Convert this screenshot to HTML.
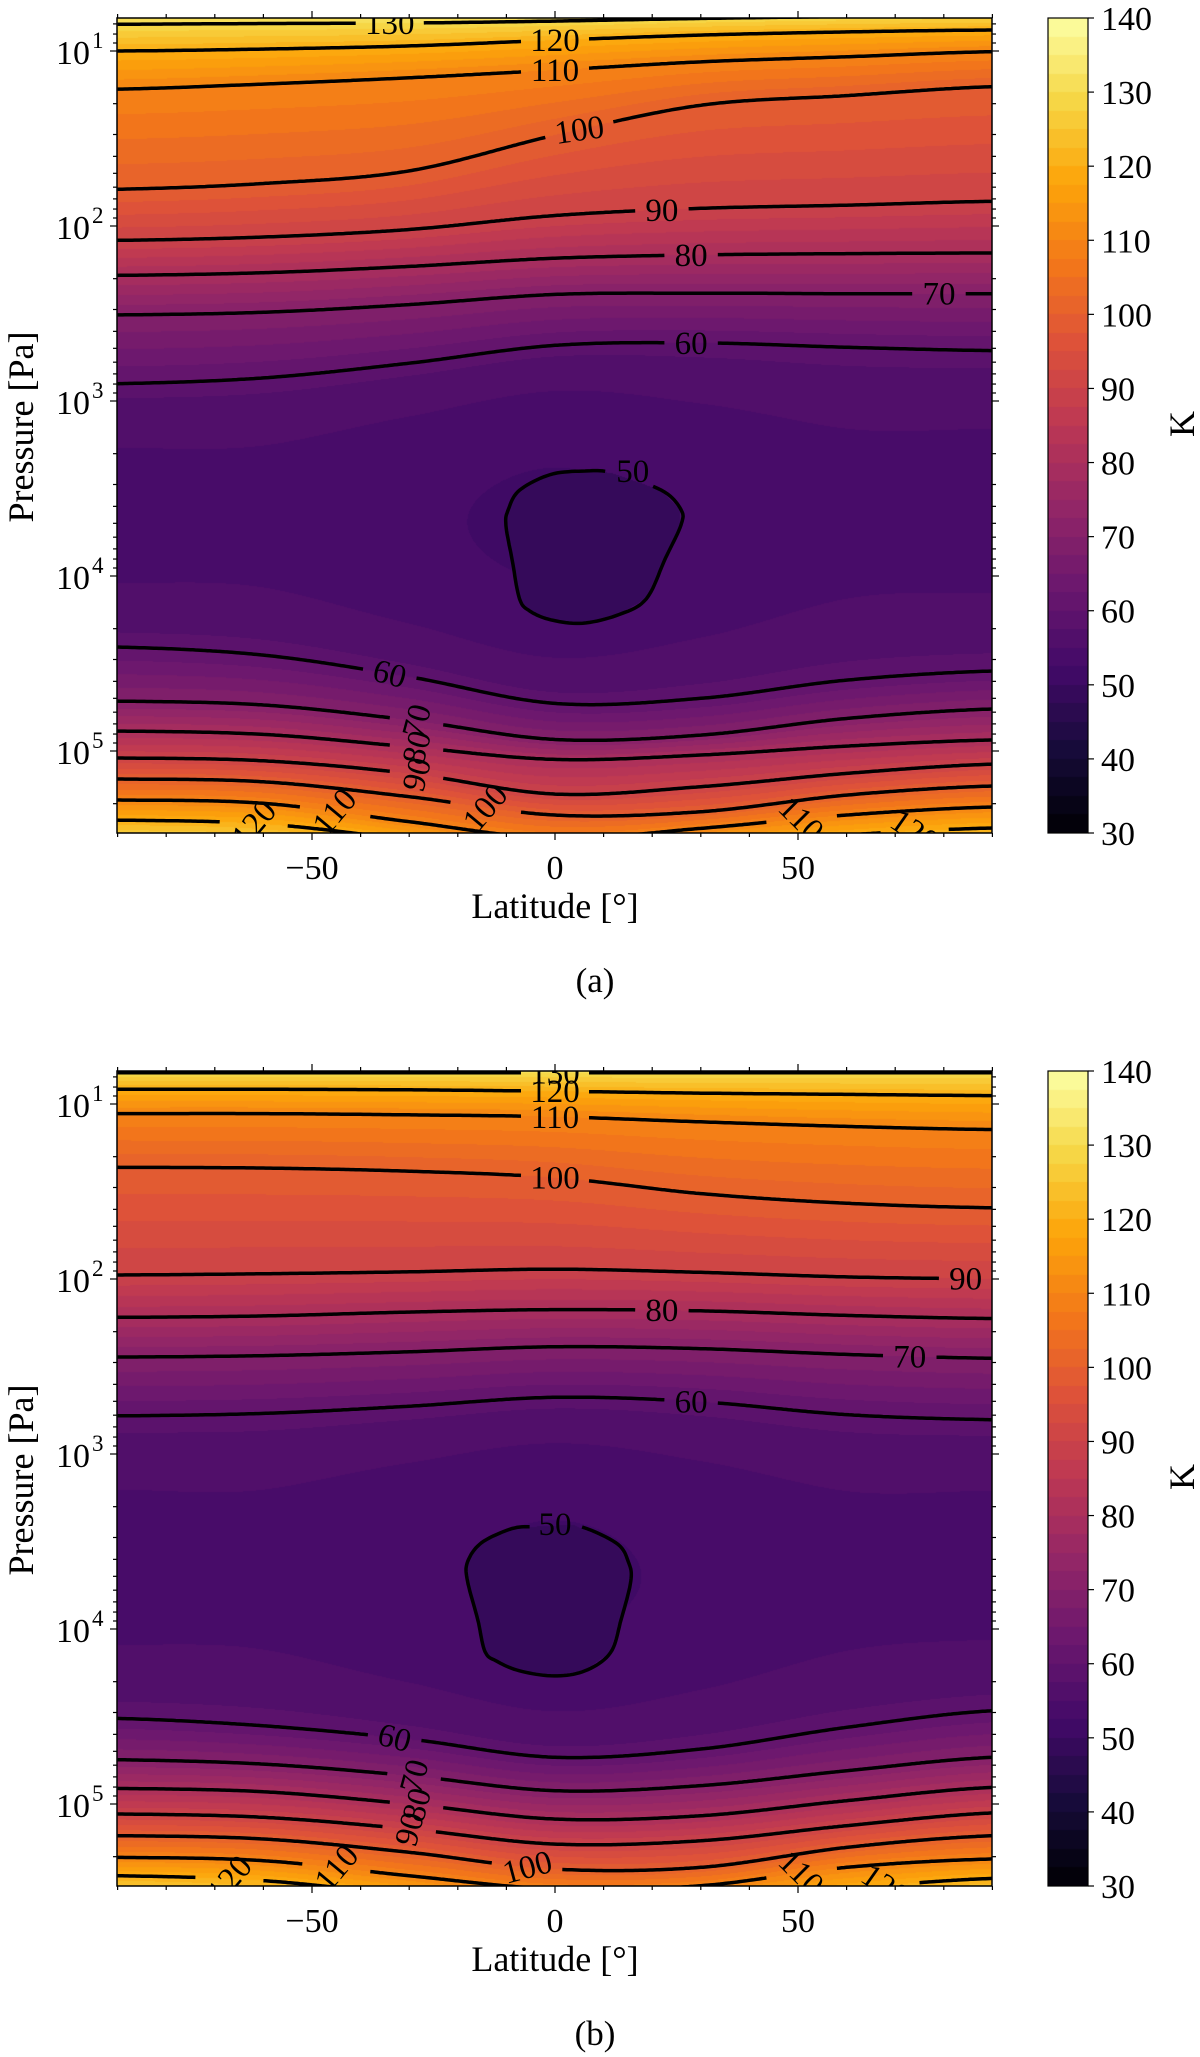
<!DOCTYPE html>
<html><head><meta charset="utf-8"><style>
body{margin:0;background:#fff;width:1200px;height:2057px;position:relative;overflow:hidden}
canvas{position:absolute}
svg{position:absolute;left:0;top:0}
text{font-family:"Liberation Serif",serif;fill:#000}
</style></head><body>
<canvas id="cA" width="875" height="815" style="left:117px;top:18px"></canvas>
<canvas id="cB" width="875" height="815" style="left:117px;top:1071px"></canvas>
<canvas id="cbA" width="40" height="815" style="left:1048px;top:18px"></canvas>
<canvas id="cbB" width="40" height="815" style="left:1048px;top:1071px"></canvas>
<svg id="ov" width="1200" height="2057"></svg>
<script>
const lats=[-90,-60,-30,0,30,60,90];
const aU130=[0.847,0.843,0.840,0.829,0.814,0.803,0.796];
const aU120=[1.0,0.989,0.971,0.938,0.909,0.891,0.880];
const aU110=[1.218,1.189,1.153,1.109,1.062,1.033,1.004];
const aU100=[1.790,1.757,1.685,1.481,1.310,1.255,1.204];
const aU90=[2.082,2.063,2.020,1.940,1.899,1.881,1.859];
const aU80=[2.282,2.267,2.231,2.184,2.165,2.158,2.154];
const aU70=[2.508,2.493,2.449,2.391,2.384,2.387,2.387];
const aU60=[2.901,2.868,2.784,2.682,2.668,2.693,2.712];
const aL60=[4.406,4.452,4.576,4.728,4.699,4.595,4.543];
const aL70=[4.715,4.737,4.823,4.934,4.909,4.814,4.760];
const aL80=[4.886,4.905,4.976,5.048,5.023,4.972,4.937];
const aL90=[5.040,5.056,5.128,5.246,5.204,5.128,5.075];
const aL100=[5.160,5.176,5.261,5.366,5.347,5.252,5.200];
const aL110=[5.280,5.299,5.404,5.499,5.442,5.366,5.320];
const aL120=[5.395,5.417,5.509,5.623,5.547,5.480,5.440];
const aL130=[5.509,5.537,5.661,5.776,5.700,5.623,5.585];
const aMid=[54,54,53,52,53,54,54];
const aLoopLat=[6.2,11.7,21.9,25.9,25.9,22.7,18.8,13.2,5.7,-0.9,-5.2,-7.3,-8.8,-10.1,-9.6,-7.3,-0.9];
const aLoopLp=[3.40,3.41,3.51,3.62,3.71,3.90,4.13,4.22,4.27,4.25,4.20,4.13,3.91,3.71,3.62,3.51,3.42];
const bU130=[0.821,0.821,0.821,0.821,0.821,0.821,0.821];
const bU120=[0.916,0.916,0.919,0.927,0.938,0.945,0.952];
const bU110=[1.055,1.055,1.062,1.073,1.102,1.128,1.146];
const bU100=[1.362,1.366,1.384,1.421,1.512,1.567,1.593];
const bU90=[1.977,1.970,1.959,1.944,1.962,1.988,1.999];
const bU80=[2.219,2.211,2.189,2.175,2.182,2.208,2.226];
const bU70=[2.446,2.438,2.416,2.387,2.398,2.431,2.453];
const bU60=[2.782,2.768,2.727,2.676,2.702,2.775,2.804];
const bL60=[4.511,4.553,4.629,4.733,4.686,4.562,4.467];
const bL70=[4.747,4.772,4.838,4.924,4.895,4.810,4.733];
const bL80=[4.911,4.930,5.000,5.086,5.067,4.981,4.905];
const bL90=[5.057,5.076,5.143,5.229,5.210,5.124,5.051];
const bL100=[5.181,5.200,5.276,5.372,5.362,5.248,5.181];
const bL110=[5.305,5.324,5.410,5.486,5.467,5.362,5.314];
const bL120=[5.410,5.438,5.524,5.619,5.581,5.486,5.425];
const bL130=[5.524,5.562,5.657,5.752,5.714,5.600,5.543];
const bMid=[54,54,53,52,53,54,54];
const bLoopLat=[-4.1,3.8,12.5,15.1,15.6,13.6,11.4,6.2,-0.2,-7.3,-12.0,-14.4,-15.9,-18.0,-18.0,-15.1,-8.8];
const bLoopLp=[3.415,3.404,3.507,3.617,3.726,3.946,4.136,4.239,4.268,4.239,4.184,4.129,3.946,3.726,3.617,3.507,3.426];
const upperLevels=[130,120,110,100,90,80,70,60];
const lowerLevels=[60,70,80,90,100,110,120,130];
const aLabels=[[130,-34,0,'U'],[120,0,0,'U'],[110,0,0,'U'],[100,5,-8,'U'],[90,22,0,'U'],[80,28,0,'U'],[70,79,0,'U'],[60,28,0,'U'],
 [60,-34,15,'L'],[70,-28.5,-75,'L'],[80,-28.5,-75,'L'],[90,-28.5,-75,'L'],[100,-14.4,-50,'L'],[110,-45.4,-50,'L'],[120,-62,-50,'L'],[110,50.7,45,'L'],[120,74,35,'L']];
const bLabels=[[130,0,0,'U'],[120,0,0,'U'],[110,0,0,'U'],[100,0,0,'U'],[90,84.5,0,'U'],[80,22,0,'U'],[70,73,0,'U'],[60,28,0,'U'],
 [60,-33,15,'L'],[70,-29,-75,'L'],[80,-28.5,-75,'L'],[90,-30,-75,'L'],[100,-5.7,-15,'L'],[110,-45,-50,'L'],[120,-67,-50,'L'],[110,50.7,45,'L'],[120,68,35,'L']];
const aLoopLabel=[16,3.40];
const bLoopLabel=[0,3.40];
const xTicks=[-50,0,50];
const yTicks=[1,2,3,4,5];
const cbTicks=[30,40,50,60,70,80,90,100,110,120,130,140];
const vmin=30,vmax=140;

const X0=555,XS=4.86,PL=117,PR=992;
function xOf(lat){return X0+lat*XS;}
function yOf(lp,dy){return 51+dy+(lp-1)*175;}
const LPTOP=1-33/175;
const inf=[[0,0,0,4],[0.1,22,11,57],[0.2,66,10,104],[0.3,106,23,110],[0.4,147,38,103],[0.5,188,55,84],[0.6,221,81,58],[0.7,243,120,25],[0.8,252,165,10],[0.9,246,215,70],[1,252,255,164]];
function cmap(t){t=Math.max(0,Math.min(1,t));for(let i=1;i<inf.length;i++){if(t<=inf[i][0]){const a=inf[i-1],b=inf[i],f=(t-a[0])/(b[0]-a[0]);return [a[1]+f*(b[1]-a[1]),a[2]+f*(b[2]-a[2]),a[3]+f*(b[3]-a[3])];}}return inf[10].slice(1);}
function band(T){const s=2.5;const q=Math.floor(T/s)*s+s/2;return cmap((q-vmin)/(vmax-vmin));}
function cr(ys,lat){let t=(lat+90)/30;if(t<0)t=0;if(t>6)t=6;let i=Math.min(5,Math.floor(t));const f=t-i;
 const p0=ys[Math.max(0,i-1)],p1=ys[i],p2=ys[i+1],p3=ys[Math.min(6,i+2)];
 return 0.5*((2*p1)+(-p0+p2)*f+(2*p0-5*p1+4*p2-p3)*f*f+(-p0+3*p1-3*p2+p3)*f*f*f);}
function inPoly(px,py,xs,ys){let c=false;for(let i=0,j=xs.length-1;i<xs.length;j=i++){if(((ys[i]>py)!=(ys[j]>py))&&(px<(xs[j]-xs[i])*(py-ys[i])/(ys[j]-ys[i])+xs[i]))c=!c;}return c;}

function drawPanel(cid,U,L,mid,loopLat,loopLp){
 const c=document.getElementById(cid),ctx=c.getContext('2d');const W=c.width,H=c.height;const img=ctx.createImageData(W,H);
 for(let px=0;px<W;px++){const lat=(px+0.5)/XS-90;
  const u=U.map(a=>cr(a,lat)),l=L.map(a=>cr(a,lat));const m=cr(mid,lat);
  for(let py=0;py<H;py++){const lp=LPTOP+(py+0.5)/175;let T;
   if(lp<u[0]){T=upperLevels[0]+(upperLevels[0]-upperLevels[1])*(u[0]-lp)/(u[1]-u[0]);}
   else if(lp<u[7]){for(let k=0;k<7;k++){if(lp<u[k+1]){const f=(lp-u[k])/(u[k+1]-u[k]);T=upperLevels[k]+f*(upperLevels[k+1]-upperLevels[k]);break;}}}
   else if(lp<l[0]){const f=(lp-u[7])/(l[0]-u[7]);T=60-(60-m)*Math.pow(Math.sin(Math.PI*f),0.5);
     if(inPoly(lat,lp,loopLat,loopLp))T=47.5;}
   else if(lp<l[7]){for(let k=0;k<7;k++){if(lp<l[k+1]){const f=(lp-l[k])/(l[k+1]-l[k]);T=lowerLevels[k]+f*(lowerLevels[k+1]-lowerLevels[k]);break;}}}
   else{T=130+10*(lp-l[7])/(l[7]-l[6]);}
   T=Math.min(139,Math.max(31,T));const col=band(T);const o=(py*W+px)*4;img.data[o]=col[0];img.data[o+1]=col[1];img.data[o+2]=col[2];img.data[o+3]=255;}}
 ctx.putImageData(img,0,0);}
function drawCB(cid){const c=document.getElementById(cid),ctx=c.getContext('2d');for(let py=0;py<c.height;py++){const T=vmax-(py+0.5)/c.height*(vmax-vmin);const col=band(T);ctx.fillStyle='rgb('+col.map(Math.round).join(',')+')';ctx.fillRect(0,py,c.width,1);}}

const NS='http://www.w3.org/2000/svg';const ov=document.getElementById('ov');
function el(tag,attrs,parent){const e=document.createElementNS(NS,tag);for(const k in attrs)e.setAttribute(k,attrs[k]);(parent||ov).appendChild(e);return e;}
function txt(s,x,y,size,anchor,parent){const t=el('text',{x:x,y:y,'font-size':size,'text-anchor':anchor||'middle'},parent);t.textContent=s;return t;}

function segPath(pts,gaps){let d='',pen=false;for(const p of pts){let hid=false;for(const g of gaps){if(Math.hypot(p[0]-g[0],p[1]-g[1])<g[2]){hid=true;break;}}
 if(hid){pen=false;continue;}d+=(pen?'L':'M')+p[0].toFixed(1)+' '+p[1].toFixed(1);pen=true;}return d;}

const LF=33;
function overlay(dy,U,L,labels,loopLat,loopLp,loopLabel,tag,letter){
 const g=el('g',{});
 
 
 const top=18+dy,bot=833+dy;
 const cp=el('clipPath',{id:'clip'+tag},g);el('rect',{x:PL,y:top,width:PR-PL,height:bot-top},cp);
 const cg=el('g',{'clip-path':'url(#clip'+tag+')'},g);
 const groups=[['U',U,upperLevels],['L',L,lowerLevels]];
 for(const [br,arrs,lev] of groups){arrs.forEach((arr,k)=>{const level=lev[k];const pts=[];for(let la=-90;la<=90.01;la+=0.5)pts.push([xOf(la),yOf(cr(arr,la),dy)]);
  const gaps=[];labels.filter(q=>q[0]===level&&q[3]===br).forEach(q=>{const x=xOf(q[1]),y=yOf(cr(arr,q[1]),dy);const r=level>=100?34:25;gaps.push([x,y,r]);
   const t=txt(String(level),x,y+11,LF,'middle',cg);t.setAttribute('transform','rotate('+q[2]+' '+x+' '+y+')');
   
   });
  const p=el('path',{d:segPath(pts,gaps),fill:'none',stroke:'#000','stroke-width':3.5},cg);
  
  });}
 const n=loopLat.length,lp=[];const P=loopLat.map((la,i)=>[xOf(la),yOf(loopLp[i],dy)]);
 for(let i=0;i<n;i++){const p0=P[(i-1+n)%n],p1=P[i],p2=P[(i+1)%n],p3=P[(i+2)%n];for(let s=0;s<10;s++){const f=s/10;lp.push([0,1].map(j=>0.5*((2*p1[j])+(-p0[j]+p2[j])*f+(2*p0[j]-5*p1[j]+4*p2[j]-p3[j])*f*f+(-p0[j]+3*p1[j]-3*p2[j]+p3[j])*f*f*f)));}}
 lp.push(lp[0]);const lx=xOf(loopLabel[0]),ly=yOf(loopLabel[1],dy);
 const lpth=el('path',{d:segPath(lp,[[lx,ly,25]]),fill:'none',stroke:'#000','stroke-width':3.5},cg);
 
 
 const l50=txt('50',lx,ly+11,LF,'middle',cg);
 
 
 el('rect',{x:PL,y:top,width:PR-PL,height:bot-top,fill:'none',stroke:'#000','stroke-width':1.5},g);
 for(let la=-90;la<=90;la+=10){const x=xOf(la);const major=xTicks.includes(la);const len=major?7:4;
  el('line',{x1:x,y1:bot,x2:x,y2:bot+len,stroke:'#000','stroke-width':1.2},g);el('line',{x1:x,y1:top,x2:x,y2:top-len,stroke:'#000','stroke-width':1.2},g);}
 xTicks.forEach(v=>{const t=txt((v<0?'\u2212':'')+Math.abs(v),xOf(v),bot+46,34,'middle',g);
  
  });
 const lpBot=LPTOP+815/175;
 for(let d=0;d<=6;d++){for(let m=1;m<=9;m++){const v=d+Math.log10(m);if(v<LPTOP||v>lpBot)continue;const y=yOf(v,dy);const len=m===1?7:4;
  el('line',{x1:PL,y1:y,x2:PL-len,y2:y,stroke:'#000','stroke-width':1.2},g);el('line',{x1:PR,y1:y,x2:PR+len,y2:y,stroke:'#000','stroke-width':1.2},g);}}
 yTicks.forEach(v=>{const y=yOf(v,dy);const t=el('text',{x:90,y:y+13,'font-size':34,'text-anchor':'end'},g);t.textContent='10';
  
  
  const s=el('text',{x:92,y:y-3,'font-size':23,'text-anchor':'start'},g);s.textContent=String(v);});
 const xl=txt('Latitude [\u00b0]',555,dy+918,36,'middle',g);
 
 
 const yl=txt('Pressure [Pa]',0,0,36,'middle',g);yl.setAttribute('transform','translate(33 '+(427+dy)+') rotate(-90)');
 
 
 el('rect',{x:1048,y:top,width:40,height:815,fill:'none',stroke:'#000','stroke-width':1.2},g);
 cbTicks.forEach(v=>{const y=bot-(v-vmin)/(vmax-vmin)*815;el('line',{x1:1088,y1:y,x2:1094,y2:y,stroke:'#000','stroke-width':1.2},g);
  const t=txt(String(v),1101,y+12,34,'start',g);
  
  });
 const k=txt('K',0,0,36,'middle',g);k.setAttribute('transform','translate(1194 '+(424+dy)+') rotate(-90)');
 
 
 const cap=txt(letter,595,dy+992,35,'middle',g);
 
 
}
const UA=[aU130,aU120,aU110,aU100,aU90,aU80,aU70,aU60],LA=[aL60,aL70,aL80,aL90,aL100,aL110,aL120,aL130];
const UB=[bU130,bU120,bU110,bU100,bU90,bU80,bU70,bU60],LB=[bL60,bL70,bL80,bL90,bL100,bL110,bL120,bL130];
drawPanel('cA',UA,LA,aMid,aLoopLat,aLoopLp);
drawPanel('cB',UB,LB,bMid,bLoopLat,bLoopLp);
drawCB('cbA');drawCB('cbB');
overlay(0,UA,LA,aLabels,aLoopLat,aLoopLp,aLoopLabel,'a','(a)');
overlay(1053,UB,LB,bLabels,bLoopLat,bLoopLp,bLoopLabel,'b','(b)');
</script>
</body></html>
